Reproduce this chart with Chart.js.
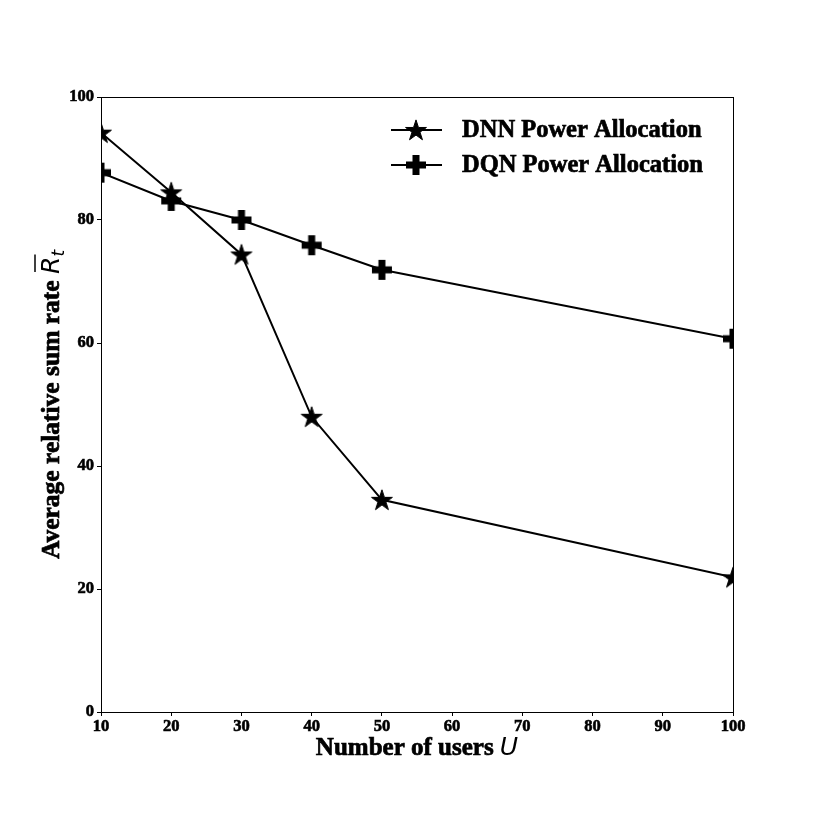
<!DOCTYPE html>
<html lang="en">
<head>
    <meta charset="UTF-8">
    <title>Average relative sum rate vs number of users</title>
    <style>
        html, body { margin: 0; padding: 0; background: #fff; }
        #chart { display: block; }
    </style>
</head>
<body>
    <canvas id="chart" width="814" height="814"></canvas>

    <script src="https://cdn.jsdelivr.net/npm/chart.js@4/dist/chart.umd.min.js"></script>
    <script>
        // data
        const users = [10, 20, 30, 40, 50, 100];
        const dnnRate = [94.2, 84.5, 74.4, 48.0, 34.5, 21.9];
        const dqnRate = [87.7, 83.1, 80.0, 75.9, 71.9, 60.7];
        const seriesLabels = ['DNN Power Allocation', 'DQN Power Allocation'];

        const SERIF = '"Liberation Serif", "Times New Roman", serif';
        const MATH = '"DejaVu Sans", sans-serif';

        // filled star marker
        function makeStar(r) {
            const c = document.createElement('canvas');
            const s = Math.ceil(r * 2 + 4);
            c.width = s; c.height = s;
            const g = c.getContext('2d');
            const inner = r * 0.382;
            g.translate(s / 2, s / 2 + r * 0.08);
            g.beginPath();
            for (let i = 0; i < 10; i++) {
                const rad = i % 2 === 0 ? r : inner;
                const a = -Math.PI / 2 + i * Math.PI / 5;
                g.lineTo(rad * Math.cos(a), rad * Math.sin(a));
            }
            g.closePath();
            g.fillStyle = '#000';
            g.fill();
            g.lineWidth = 1;
            g.strokeStyle = '#000';
            g.stroke();
            return c;
        }

        // filled plus marker
        function makePlus(size, thick) {
            const c = document.createElement('canvas');
            const s = size + 2;
            c.width = s; c.height = s;
            const g = c.getContext('2d');
            g.fillStyle = '#000';
            const o = (s - thick) / 2;
            g.fillRect(1, o, size, thick);
            g.fillRect(o, 1, thick, size);
            return c;
        }

        const starImg = makeStar(11);
        const plusImg = makePlus(20, 7);

        // fill plus a thin stroke so the bold serif looks as heavy as the original
        function heavyText(ctx, txt, x, y) {
            ctx.fillText(txt, x, y);
            ctx.lineWidth = 0.7;
            ctx.strokeText(txt, x, y);
        }

        const frameAndText = {
            id: 'frameAndText',
            afterDraw(chart) {
                const { ctx, chartArea: a } = chart;
                ctx.save();
                ctx.strokeStyle = '#000';
                ctx.fillStyle = '#000';
                // box around the plot
                ctx.lineWidth = 1;
                ctx.strokeRect(a.left + 0.5, a.top + 0.5, a.right - a.left, a.bottom - a.top);

                // legend
                const imgs = [starImg, plusImg];
                const ys = [130, 165];
                for (let i = 0; i < 2; i++) {
                    const y = ys[i];
                    ctx.beginPath();
                    ctx.lineWidth = 2;
                    ctx.moveTo(391, y);
                    ctx.lineTo(442, y);
                    ctx.stroke();
                    const im = imgs[i];
                    ctx.drawImage(im, 416 - im.width / 2, y - im.height / 2);
                    ctx.font = 'bold 24.5px ' + SERIF;
                    ctx.textBaseline = 'middle';
                    ctx.textAlign = 'left';
                    heavyText(ctx, seriesLabels[i], 462, y + 1);
                }

                // x axis title
                ctx.textBaseline = 'alphabetic';
                const xt = 'Number of users ';
                ctx.font = 'bold 25px ' + SERIF;
                const w1 = ctx.measureText(xt).width;
                ctx.font = 'italic 25px ' + MATH;
                const w2 = ctx.measureText('U').width;
                const xStart = (a.left + a.right) / 2 - (w1 + w2) / 2;
                ctx.font = 'bold 25px ' + SERIF;
                heavyText(ctx, xt, xStart, 755);
                ctx.font = 'italic 25px ' + MATH;
                ctx.fillText('U', xStart + w1, 755);

                // y axis title (rotated)
                ctx.translate(59, (a.top + a.bottom) / 2);
                ctx.rotate(-Math.PI / 2);
                const yt = 'Average relative sum rate ';
                ctx.font = 'bold 25.5px ' + SERIF;
                const v1 = ctx.measureText(yt).width;
                ctx.font = 'italic 25px ' + MATH;
                const v2 = ctx.measureText('R').width;
                ctx.font = 'italic 17px ' + MATH;
                const v3 = ctx.measureText('t').width;
                const total = v1 + v2 + v3;
                let px = -total / 2;
                ctx.font = 'bold 25.5px ' + SERIF;
                heavyText(ctx, yt, px, 0);
                px += v1;
                ctx.font = 'italic 25px ' + MATH;
                ctx.fillText('R', px, 0);
                // overline
                ctx.lineWidth = 1.5;
                ctx.beginPath();
                ctx.moveTo(px + 2, -24);
                ctx.lineTo(px + v2 + 2, -24);
                ctx.stroke();
                px += v2;
                ctx.font = 'italic 17px ' + MATH;
                ctx.fillText('t', px, 5);
                ctx.restore();
            }
        };

        const tickFont = { family: SERIF, weight: 'bold', size: 16.5 };

        const ctx = document.getElementById('chart').getContext('2d');
        const chart = new Chart(ctx, {
            type: 'line',
            data: {
                datasets: [
                    {
                        label: seriesLabels[0],
                        data: users.map((u, i) => ({ x: u, y: dnnRate[i] })),
                        borderColor: '#000',
                        borderWidth: 2,
                        pointStyle: starImg,
                        clip: 0,
                    },
                    {
                        label: seriesLabels[1],
                        data: users.map((u, i) => ({ x: u, y: dqnRate[i] })),
                        borderColor: '#000',
                        borderWidth: 2,
                        pointStyle: plusImg,
                        clip: 0,
                    }
                ]
            },
            options: {
                responsive: false,
                animation: false,
                devicePixelRatio: 1,
                layout: { padding: { left: 0, top: 97, right: 81, bottom: 0 } },
                elements: { line: { tension: 0 } },
                plugins: {
                    legend: { display: false },
                    tooltip: { enabled: false }
                },
                scales: {
                    x: {
                        type: 'linear',
                        min: 10,
                        max: 100,
                        afterFit(scale) { scale.height = 102; },
                        border: { color: '#000', width: 1 },
                        grid: { drawOnChartArea: false, drawTicks: true, tickLength: 4, color: '#000' },
                        ticks: {
                            stepSize: 10,
                            color: '#000',
                            padding: 1,
                            maxRotation: 0,
                            textStrokeColor: '#000',
                            textStrokeWidth: 0.6,
                            font: tickFont
                        }
                    },
                    y: {
                        min: 0,
                        max: 100,
                        afterFit(scale) { scale.width = 101; },
                        border: { color: '#000', width: 1 },
                        grid: { drawOnChartArea: false, drawTicks: true, tickLength: 4, color: '#000' },
                        ticks: {
                            stepSize: 20,
                            color: '#000',
                            padding: 3,
                            textStrokeColor: '#000',
                            textStrokeWidth: 0.6,
                            font: tickFont
                        }
                    }
                }
            },
            plugins: [frameAndText]
        });
    </script>
</body>
</html>
